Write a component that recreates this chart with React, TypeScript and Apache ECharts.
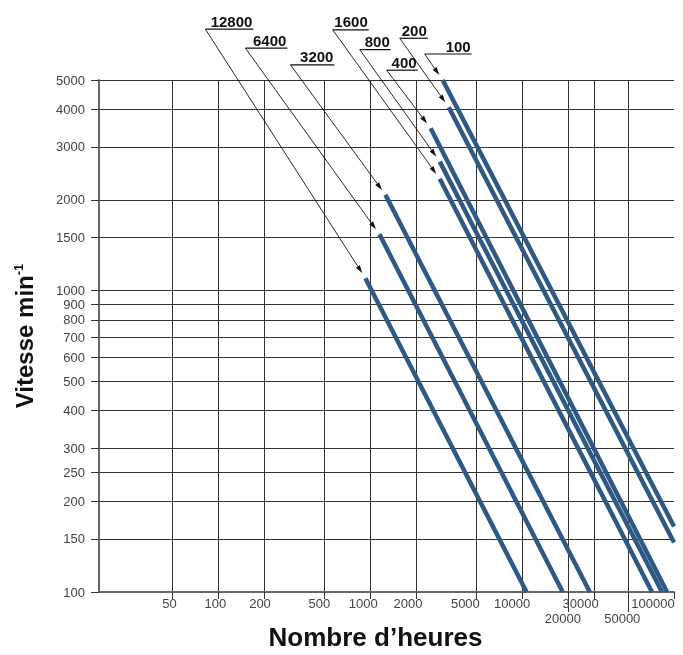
import React, { useEffect, useRef } from 'react';
import * as echarts from 'echarts';

// ---- data ----
const hourTicks = [50, 100, 200, 500, 1000, 2000, 5000, 10000, 20000, 30000, 50000, 100000];
const hourUpperLabels = [50, 100, 200, 500, 1000, 2000, 5000, 10000, 30000, 100000];
const hourLowerLabels = [20000, 50000];
const speedTicks = [100, 150, 200, 250, 300, 400, 500, 600, 700, 800, 900, 1000, 1500, 2000, 3000, 4000, 5000];

const curveNames = ['12800', '6400', '3200', '1600', '800', '400', '200', '100'];
const curveStartHours = [930, 1150, 1260, 2870, 2870, 2500, 3290, 3000];
const curveStartSpeeds = [1100, 1540, 2080, 2350, 2680, 3460, 4060, 5000];
const curveEndHours = [10700, 18500, 27900, 71600, 83400, 90000, 100000, 100000];
const curveEndSpeeds = [100, 100, 100, 100, 100, 100, 146, 165];

// ---- layout (pixels) ----
const calloutLayout = [
  { dx: -160, dy: -249, w: 48 },
  { dx: -134, dy: -186, w: 42 },
  { dx: -95, dy: -130, w: 44 },
  { dx: -107, dy: -149, w: 36 },
  { dx: -80, dy: -112, w: 31 },
  { dx: -44, dy: -58, w: 31 },
  { dx: -49, dy: -69, w: 28 },
  { dx: -18, dy: -26, w: 47 },
];
const labelShift: Record<number, number> = {
  50: 3, 100: 3, 200: 4, 500: 5, 1000: 7, 2000: 8, 5000: 11, 10000: 10,
  20000: 5, 30000: 14, 50000: 6, 100000: 21,
};

const FONT = '"Liberation Sans", Arial, Helvetica, sans-serif';
const LINE_COLOR = '#2e5984';
const GRID_COLOR = '#333';
const LABEL_COLOR = '#444';

const xRich: Record<string, any> = {};
hourTicks.forEach((v) => {
  xRich['s' + v] = {
    fontSize: 13,
    fontFamily: FONT,
    color: LABEL_COLOR,
    padding: [0, 2 * (labelShift[v] || 0), 0, 0],
  };
});
const xFormatter = (v: number) => {
  const k = Math.round(v);
  return `{s${k}|${k}}`;
};

export default function App() {
  const ref = useRef<HTMLDivElement>(null);
  useEffect(() => {
    const chart = echarts.init(ref.current!, null, { renderer: 'svg' });

    const lineSeries = curveNames.map((name, i) => ({
      type: 'line',
      name,
      xAxisIndex: 0,
      yAxisIndex: 0,
      data: [
        [curveStartHours[i], curveStartSpeeds[i]],
        [curveEndHours[i], curveEndSpeeds[i]],
      ],
      showSymbol: false,
      symbol: 'none',
      silent: true,
      clip: true,
      lineStyle: { color: LINE_COLOR, width: 4.5, cap: 'butt' },
      emphasis: { disabled: true },
      z: 3,
    }));

    const calloutSeries = {
      type: 'custom',
      coordinateSystem: 'cartesian2d',
      xAxisIndex: 0,
      yAxisIndex: 0,
      clip: false,
      silent: true,
      z: 4,
      data: curveNames.map((_, i) => [curveStartHours[i], curveStartSpeeds[i], i]),
      renderItem: (params: any, api: any) => {
        const i = api.value(2);
        const p = api.coord([api.value(0), api.value(1)]);
        const L = calloutLayout[i];
        const ax = p[0] + L.dx;
        const ay = p[1] + L.dy;
        const len = Math.hypot(L.dx, L.dy);
        const ux = L.dx / len;
        const uy = L.dy / len;
        const gap = 6;
        const tipX = p[0] + ux * gap;
        const tipY = p[1] + uy * gap;
        const headLen = 8;
        const headW = 2.4;
        const bx = tipX + ux * headLen;
        const by = tipY + uy * headLen;
        const nx = -uy;
        const ny = ux;
        return {
          type: 'group',
          children: [
            {
              type: 'line',
              shape: { x1: ax, y1: ay, x2: bx, y2: by },
              style: { stroke: '#111', lineWidth: 0.9 },
            },
            {
              type: 'polygon',
              shape: {
                points: [
                  [tipX, tipY],
                  [bx + nx * headW, by + ny * headW],
                  [bx - nx * headW, by - ny * headW],
                ],
              },
              style: { fill: '#111' },
            },
            {
              type: 'line',
              shape: { x1: ax, y1: ay, x2: ax + L.w, y2: ay },
              style: { stroke: '#111', lineWidth: 1.2 },
            },
            {
              type: 'text',
              style: {
                text: curveNames[i],
                x: ax + L.w - 1,
                y: ay - 8,
                align: 'right',
                verticalAlign: 'middle',
                fontSize: 15,
                fontWeight: 'bold',
                fontFamily: FONT,
                fill: '#111',
              },
            },
          ],
        };
      },
    };

    const option: any = {
      animation: false,
      textStyle: { fontFamily: FONT },
      grid: { left: 99, right: 9, top: 80, height: 518, containLabel: false },
      xAxis: [
        {
          type: 'log',
          min: 16.4,
          max: 100000,
          position: 'bottom',
          name: 'Nombre d\u2019heures',
          nameLocation: 'middle',
          nameGap: 32,
          nameTextStyle: {
            fontSize: 26,
            fontWeight: 'bold',
            fontFamily: FONT,
            color: '#111',
            padding: [0, 22, 0, 0],
          },
          axisLine: { show: true, lineStyle: { color: '#666', width: 2 } },
          axisTick: {
            show: true,
            customValues: hourTicks,
            length: 7,
            lineStyle: { color: GRID_COLOR, width: 1 },
          },
          axisLabel: {
            customValues: hourUpperLabels,
            margin: 5,
            formatter: xFormatter,
            rich: xRich,
          },
          splitLine: {
            show: true,
            showMaxLine: false,
            lineStyle: { color: GRID_COLOR, width: 1 },
          },
          minorTick: { show: false },
          minorSplitLine: { show: false },
        },
        {
          type: 'log',
          min: 16.4,
          max: 100000,
          position: 'bottom',
          axisLine: { show: false },
          axisTick: {
            show: true,
            customValues: hourLowerLabels,
            length: 20,
            lineStyle: { color: GRID_COLOR, width: 1 },
          },
          axisLabel: {
            customValues: hourLowerLabels,
            margin: 20,
            formatter: xFormatter,
            rich: xRich,
          },
          splitLine: { show: false },
        },
      ],
      yAxis: {
        type: 'log',
        min: 100,
        max: 5000,
        name: '{m|Vitesse min}{s|-1}',
        nameLocation: 'middle',
        nameRotate: 90,
        nameGap: 63,
        nameTextStyle: {
          rich: {
            m: { fontSize: 24, fontWeight: 'bold', fontFamily: FONT, color: '#111' },
            s: { fontSize: 13, fontWeight: 'bold', fontFamily: FONT, color: '#111', verticalAlign: 'top' },
          },
        },
        axisLine: { show: true, lineStyle: { color: '#666', width: 2 } },
        axisTick: {
          show: true,
          customValues: speedTicks,
          length: 8,
          lineStyle: { color: GRID_COLOR, width: 1 },
        },
        axisLabel: {
          customValues: speedTicks,
          margin: 14,
          fontSize: 13,
          fontFamily: FONT,
          color: LABEL_COLOR,
          formatter: (v: number) => String(Math.round(v)),
        },
        splitLine: { show: true, lineStyle: { color: GRID_COLOR, width: 1 } },
        minorTick: { show: false },
        minorSplitLine: { show: false },
      },
      series: [...lineSeries, calloutSeries],
    };

    chart.setOption(option);
    return () => chart.dispose();
  }, []);
  return (
    <div
      ref={ref}
      style={{ position: 'fixed', left: 0, top: 0, width: 683, height: 655 }}
    />
  );
}
